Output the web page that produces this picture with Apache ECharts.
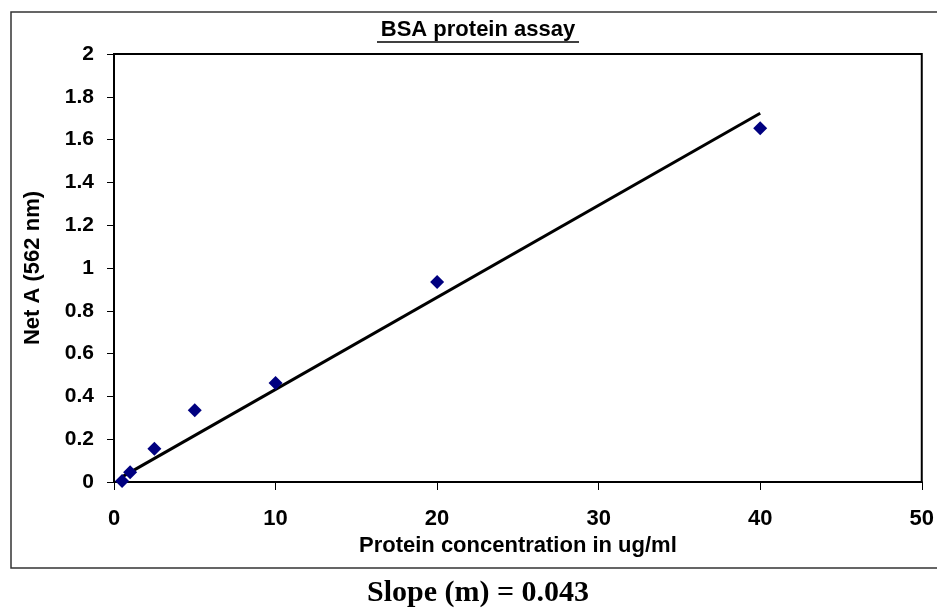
<!DOCTYPE html>
<html>
<head>
<meta charset="utf-8">
<script src="https://cdn.jsdelivr.net/npm/echarts@6/dist/echarts.min.js"></script>
<style>
  html, body { margin: 0; padding: 0; background: #fff; }
  #chart { width: 937px; height: 611px; }
</style>
</head>
<body>
<div id="chart"></div>
<script>
// BSA standard curve
let concentration = [0.5, 1, 2.5, 5, 10, 20, 40]
let absorbance = [0.005, 0.045, 0.155, 0.335, 0.463, 0.935, 1.653]
// linear trendline ends
let trendX = [0.5, 40]
let trendY = [0.024, 1.723]
let xTicks = [0, 10, 20, 30, 40, 50]
let yTicks = [0, 0.2, 0.4, 0.6, 0.8, 1, 1.2, 1.4, 1.6, 1.8, 2]

let chart = echarts.init(document.getElementById('chart'))

let font = 'Arial, "Liberation Sans", sans-serif'

let option = {
  backgroundColor: '#fff',
  animation: false,
  grid: {
    left: 114,
    right: 15,
    top: 54,
    bottom: 129,
    show: true,
    borderColor: '#000',
    borderWidth: 2
  },
  xAxis: {
    type: 'value',
    min: xTicks[0],
    max: xTicks[xTicks.length - 1],
    interval: 10,
    name: 'Protein concentration in ug/ml',
    nameLocation: 'middle',
    nameGap: 53,
    nameTextStyle: { fontFamily: font, fontWeight: 'bold', fontSize: 22, color: '#000' },
    axisLine: { lineStyle: { color: '#000', width: 2 } },
    axisTick: { length: 8, lineStyle: { color: '#000', width: 1 } },
    axisLabel: { fontFamily: font, fontWeight: 'bold', fontSize: 22, color: '#000', margin: 26 },
    splitLine: { show: false }
  },
  yAxis: {
    type: 'value',
    min: yTicks[0],
    max: yTicks[yTicks.length - 1],
    interval: 0.2,
    name: 'Net A (562 nm)',
    nameLocation: 'middle',
    nameRotate: 90,
    nameGap: 70,
    nameTextStyle: { fontFamily: font, fontWeight: 'bold', fontSize: 22, color: '#000' },
    axisLine: { lineStyle: { color: '#000', width: 2 } },
    axisTick: { length: 7, lineStyle: { color: '#000', width: 1 } },
    axisLabel: { fontFamily: font, fontWeight: 'bold', fontSize: 21, color: '#000', margin: 20 },
    splitLine: { show: false }
  },
  series: [{
    name: 'trend',
    type: 'line',
    data: trendX.map((x, i) => [x, trendY[i]]),
    symbol: 'none',
    lineStyle: { color: '#000', width: 3 },
    z: 2
  }, {
    name: 'BSA',
    type: 'scatter',
    data: concentration.map((x, i) => [x, absorbance[i]]),
    symbol: 'diamond',
    symbolSize: [14, 14],
    itemStyle: { color: '#000080', opacity: 1 },
    z: 3
  }],
  graphic: [{
    type: 'rect',
    shape: { x: 11, y: 12, width: 960, height: 556 },
    style: { fill: 'none', stroke: '#333', lineWidth: 1.5 },
    silent: true
  }, {
    type: 'text',
    x: 478,
    y: 30,
    style: {
      text: 'BSA protein assay',
      fontFamily: font, fontWeight: 'bold', fontSize: 22,
      fill: '#000', align: 'center', verticalAlign: 'middle'
    }
  }, {
    type: 'line',
    shape: { x1: 377, y1: 42, x2: 579, y2: 42 },
    style: { stroke: '#000', lineWidth: 1.5 }
  }, {
    type: 'text',
    x: 478,
    y: 593,
    style: {
      text: 'Slope (m) = 0.043',
      fontFamily: '"Times New Roman", "Liberation Serif", serif', fontWeight: 'bold', fontSize: 30,
      fill: '#000', align: 'center', verticalAlign: 'middle'
    }
  }]
}

chart.setOption(option)
</script>
</body>
</html>
